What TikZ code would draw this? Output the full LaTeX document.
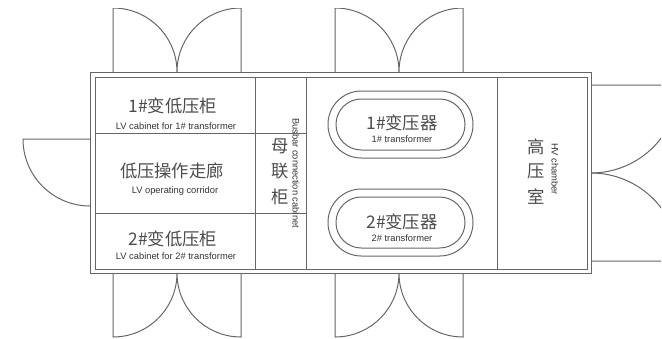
\documentclass[tikz,border=0pt]{standalone}
\usepackage{fontspec}
\setmainfont{Liberation Sans}
\newfontfamily\cjk{Noto Sans CJK SC}
\tikzset{
    wall/.style={draw=black!60,line width=0.75pt},
    zh/.style={font=\cjk\fontsize{13}{15}\selectfont,text=black!70,inner sep=0pt},
    en/.style={font=\fontsize{7}{8}\selectfont,text=black!80,inner sep=0pt},
    enside/.style={en,rotate=-90},
    capsule/.style={wall,rounded corners=25pt}
}
\begin{document}
\begin{tikzpicture}[x=0.75pt,y=-0.75pt]
    \useasboundingbox (0,0) rectangle (662,339);
    \clip (0,8.7) rectangle (661,339);
    \draw[wall] (90,72) rectangle (591,273);
    \draw[wall] (95,77) rectangle (587,269);
    \draw[wall] (255,77) -- (255,269);
    \draw[wall] (306,77) -- (306,269);
    \draw[wall] (497,77) -- (497,269);
    \draw[wall] (95,133) -- (306,133);
    \draw[wall] (95,213) -- (306,213);
    \foreach \mid in {177,399} {
        \draw[wall] (\mid-64,72) -- (\mid-64,8) arc[start angle=-90,end angle=0,radius=64] arc[start angle=180,end angle=270,radius=64] -- (\mid+64,72);
        \draw[wall] (\mid-64,273) -- (\mid-64,337) arc[start angle=90,end angle=0,radius=64] arc[start angle=180,end angle=90,radius=64] -- (\mid+64,273);
    }
    \draw[wall] (90,139) -- (23,139) arc[start angle=180,end angle=90,radius=67];
    \draw[wall] (591,85) -- (679,85) arc[start angle=0,end angle=90,radius=88];
    \draw[wall] (591,261) -- (679,261) arc[start angle=0,end angle=-90,radius=88];
    \draw[capsule] (328,91) rectangle (473,158);
    \draw[capsule,rounded corners=19pt] (336,99) rectangle (465,150);
    \draw[capsule] (328,189) rectangle (473,256);
    \draw[capsule,rounded corners=19pt] (336,197) rectangle (465,248);
    \node[zh] (cabinet1) at (173,106) {1\#变低压柜};
    \node[en] (cabinet1en) at (176,126) {LV cabinet for 1\# transformer};
    \node[zh] (corridor) at (172,171) {低压操作走廊};
    \node[en] (corridoren) at (175,191) {LV operating corridor};
    \node[zh] (cabinet2) at (173,239) {2\#变低压柜};
    \node[en] (cabinet2en) at (176,256) {LV cabinet for 2\# transformer};
    \node[zh] (bus1) at (280,146) {母};
    \node[zh] (bus2) at (280,171) {联};
    \node[zh] (bus3) at (280,197) {柜};
    \node[enside] (busen) at (296,173) {Busbar connection cabinet};
    \node[zh] (trans1) at (402,123) {1\#变压器};
    \node[en] (trans1en) at (402,139) {1\# transformer};
    \node[zh] (trans2) at (402,222) {2\#变压器};
    \node[en] (trans2en) at (402,238) {2\# transformer};
    \node[zh] (hv1) at (536,147) {高};
    \node[zh] (hv2) at (536,171) {压};
    \node[zh] (hv3) at (536,197) {室};
    \node[enside] (hven) at (555,169) {HV chamber};
\end{tikzpicture}
\end{document}
